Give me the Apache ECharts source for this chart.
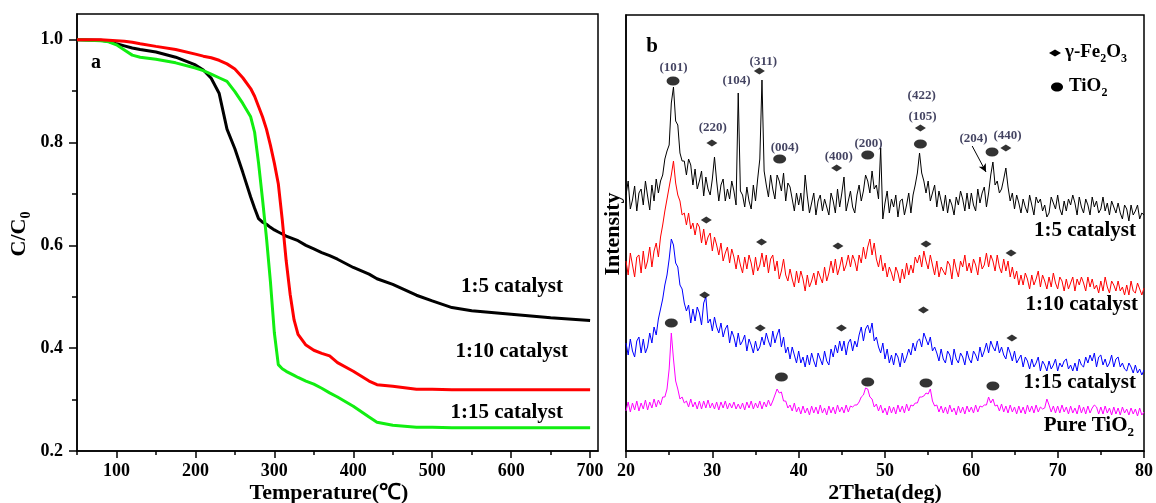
<!DOCTYPE html>
<html><head><meta charset="utf-8">
<script src="https://cdn.jsdelivr.net/npm/echarts@6/dist/echarts.min.js"></script>
<style>html,body{margin:0;padding:0;background:#fff}#c{width:1156px;height:503px}</style>
</head><body><div id="c"></div>
<script>
// ---------- Panel a: C/C0 vs temperature ----------
const tempC = [50,80,90,100,110,120,130,150,175,200,210,220,230,240,250,260,270,275,280,285,290,295,300,305,310,315,320,325,330,340,350,360,370,380,400,420,430,450,480,500,525,550,600,650,700];
const cat1to5  = [1.0,0.999,0.997,0.992,0.988,0.984,0.981,0.976,0.966,0.951,0.941,0.925,0.896,0.826,0.788,0.742,0.694,0.672,0.652,0.645,0.641,0.635,0.630,0.626,0.622,0.618,0.615,0.612,0.609,0.600,0.593,0.586,0.580,0.573,0.557,0.544,0.535,0.524,0.503,0.492,0.479,0.473,0.466,0.459,0.454];
const cat1to10 = [1.0,1.0,0.999,0.998,0.997,0.995,0.992,0.987,0.981,0.972,0.968,0.965,0.960,0.953,0.943,0.926,0.905,0.890,0.870,0.850,0.826,0.795,0.760,0.720,0.650,0.570,0.505,0.455,0.427,0.406,0.396,0.390,0.385,0.372,0.355,0.336,0.329,0.326,0.320,0.320,0.319,0.319,0.319,0.319,0.319];
const cat1to15 = [1.0,0.998,0.996,0.990,0.980,0.970,0.966,0.962,0.955,0.945,0.940,0.933,0.926,0.919,0.899,0.876,0.850,0.820,0.760,0.690,0.615,0.530,0.430,0.368,0.360,0.355,0.351,0.347,0.343,0.336,0.330,0.322,0.313,0.305,0.287,0.266,0.256,0.250,0.246,0.246,0.245,0.245,0.245,0.245,0.245];
const tempLabelTicks = [100,200,300,400,500,600,700];
const tempMinorTicks = [50,150,250,350,450,550,650];
const ccLabelTicks = [0.2,0.4,0.6,0.8,1.0];
const ccMinorTicks = [0.3,0.5,0.7,0.9];

// ---------- Panel b: XRD patterns (2theta from 20 to 80, step 0.25) ----------
const thetaStart = 20, thetaStep = 0.25;
const xrd1to5 = [256,270,242,251, 265,240,258,262, 246,270,255,241, 266,250,272,258, 270,276,292,300, 306,348,364,330, 326,298,290,290, 276,292,286,266, 282,262,270,280, 255,274,262,256, 272,294,270,250, 266,272,250,262, 252,270,260,246, 358,260,256,244, 264,250,242,266, 250,272,292,371, 280,266,254,276, 262,252,276,270, 260,278,250,268, 264,252,240,258, 246,258,240,276, 255,238,248,258, 236,250,256,240, 252,244,236,258, 250,238,262,244, 258,274,240,250, 260,244,238,256, 266,250,260,276, 270,258,280,262, 266,252,303,232, 248,260,238,252, 244,256,234,250, 252,236,246,258, 238,256,266,278, 298,278,270,258, 270,250,258,266, 244,260,250,240, 256,238,252,246, 236,254,246,260, 252,240,258,242, 258,246,240,262, 248,258,264,244, 258,276,289,266, 270,258,262,272, 283,264,250,258, 242,256,248,238, 252,244,238,256, 246,236,254,248, 252,240,246,234, 238,254,248,242, 256,242,236,250, 240,252,246,256, 248,236,254,244, 238,252,246,236, 254,244,250,238, 242,254,240,248, 236,250,244,238, 248,238,232,246, 242,230,246,236, 240,246,232,238, 236];
const xrd1to10 = [190,176,198,186, 174,194,196,178, 200,182,190,204, 184,200,208,194, 214,226,240,252, 264,276,290,268, 256,250,236,238, 226,238,222,228, 216,228,224,208, 222,206,214,218, 200,214,206,196, 208,190,198,204, 188,202,194,182, 196,186,178,194, 182,196,188,176, 194,180,186,198, 184,196,178,192, 196,180,190,172, 180,192,176,170, 182,172,164,180, 168,180,172,160, 176,164,170,178, 166,180,174,168, 184,170,178,190, 178,192,176,184, 194,180,186,196, 184,196,190,180, 196,188,204,192, 204,212,196,208, 192,184,196,180, 188,174,184,178, 170,184,178,168, 182,172,188,176, 186,178,194,188, 196,184,200,190, 182,196,186,176, 190,174,184,180, 176,190,186,172, 192,182,174,190, 184,196,180,188, 178,192,186,176, 194,182,186,198, 184,196,190,180, 196,184,178,192, 180,190,174,184, 172,180,166,176, 166,178,172,162, 176,166,172,180, 164,176,170,162, 174,164,178,168, 162,174,170,160, 172,162,168,174, 160,172,166,174, 168,160,174,164, 172,162,166,158, 170,160,174,164, 158,170,166,160, 170,160,164,156, 166,156,170,160, 158,168,162,156, 163];
const xrd1to15 = [108,96,112,100, 94,110,114,98, 112,98,104,118, 108,124,116,132, 142,152,166,176, 192,212,206,188, 184,166,162,148, 140,146,128,142, 130,144,138,126, 148,154,128,132, 120,134,124,118, 128,114,122,126, 108,120,114,104, 118,106,110,116, 100,112,106,98, 110,100,104,114, 106,118,110,104, 120,108,116,122, 104,114,98,104, 92,104,96,88, 100,88,94,84, 96,86,98,90, 84,98,92,86, 100,90,86,102, 94,106,98,110, 100,110,96,108, 112,100,110,104, 116,124,110,122, 126,118,128,110, 114,104,98,108, 92,102,88,96, 86,98,94,84, 98,88,94,102, 96,108,100,110, 112,104,118,112, 106,114,100,104, 98,90,102,92, 88,100,96,86, 102,92,88,98, 94,86,100,92, 88,100,96,90, 104,94,100,108, 98,110,104,100, 110,98,104,96, 92,104,98,90, 100,88,92,96, 84,94,90,82, 92,84,88,94, 80,90,86,80, 90,82,86,92, 80,88,84,90, 92,82,86,80, 88,80,92,86, 84,94,88,96, 90,98,84,94, 96,86,92,84, 88,96,84,92, 94,84,88,82, 80,88,84,78, 86,78,82,76, 81];
const xrdPureTiO2 = [40,49,39,48, 41,50,40,48, 42,51,41,49, 43,52,44,51, 46,54,54,62, 82,118,92,70, 62,52,54,48, 50,44,52,44, 49,42,50,42, 50,43,51,43, 48,42,49,41, 49,43,50,42, 48,43,49,42, 47,42,48,41, 49,43,50,42, 48,43,50,42, 49,44,51,45, 50,56,62,58, 59,50,50,43, 46,40,48,39, 44,37,45,38, 43,36,45,38, 44,37,46,38, 43,36,45,38, 44,37,46,39, 44,38,46,39, 45,44,46,46, 49,54,56,63, 62,54,52,44, 47,40,46,38, 43,36,45,38, 44,37,46,39, 45,38,47,40, 46,45,48,48, 54,54,55,58, 57,62,50,45, 46,39,45,38, 44,37,46,39, 43,36,45,38, 44,37,45,39, 44,38,46,39, 45,44,46,46, 54,48,52,45, 46,40,47,39, 45,38,46,39, 44,37,45,38, 44,37,46,39, 45,38,46,39, 44,42,43,52, 46,39,45,38, 45,38,46,39, 44,37,45,38, 43,37,46,38, 44,37,45,38, 43,46,44,37, 44,37,45,38, 43,36,44,37, 43,36,44,38, 42,36,43,37, 42,35,43,36, 39];
const thetaLabelTicks = [20,30,40,50,60,70,80];
const thetaMinorTicks = [25,35,45,55,65,75];

// phase markers [2theta, intensity]
const fe2o3Marks = [[35.45,380],[29.95,308],[44.4,283],[54.1,323],[64.0,303],
  [29.3,231],[35.7,209],[44.55,205],[54.75,207],[64.6,198],
  [29.1,156],[35.55,123],[44.95,123],[54.45,141],[64.7,113]];
const tio2Marks = [[25.45,370],[37.8,292],[48.0,296],[54.1,307],[62.4,299],
  [25.25,128],[38.0,74],[48.0,69],[54.75,68],[62.5,65]];
const millerLabels = [["(101)",25.5,383],["(104)",32.8,370],["(311)",35.9,389],["(220)",30.05,323],["(004)",38.4,303],["(400)",44.65,294],["(200)",48.1,307],["(422)",54.25,355],["(105)",54.35,334],["(204)",60.25,312],["(440)",64.2,315]];
const arrow204 = [[60.1,305],[61.7,279]];

// ---------- build ----------
const F = '"Liberation Serif","Times New Roman",serif';
const pairs = (xs, ys) => ys.map((v, i) => [xs[i], v]);
const xrdPairs = ys => ys.map((v, i) => [thetaStart + i * thetaStep, v]);
const blackLine = {color:'#000', width:1.5};
const tickLabel = {color:'#000', fontFamily:F, fontWeight:'bold', fontSize:18};

function lineSeries(name, data, color, width, xi, yi){
  return {name, type:'line', data, xAxisIndex:xi, yAxisIndex:yi, showSymbol:false, symbol:'none',
    lineStyle:{color, width}, itemStyle:{color}, z:2, silent:true};
}
const ellipsePath = 'path://M0 5A5 5 0 1 1 10 5A5 5 0 1 1 0 5Z';

const txt = (x, y, text, size, align, extra) => Object.assign({
  type:'text', x, y, silent:true,
  style:{text, fill:'#000', font:'bold ' + size + 'px ' + F, fontFamily:F, fontWeight:'bold', fontSize:size,
    align, textAlign:align, verticalAlign:'middle', textVerticalAlign:'middle'}
}, extra || {});
const subRich = size => ({
  m:{fontFamily:F, fontWeight:'bold', fontSize:size, fill:'#000', color:'#000', verticalAlign:'top'},
  s:{fontFamily:F, fontWeight:'bold', fontSize:Math.round(size*0.62), fill:'#000', color:'#000', verticalAlign:'top', padding:[Math.round(size*0.5),0,0,0]}
});
function richTxt(x, y, text, size, align, extra){
  const t = txt(x, y, text, size, align, extra);
  t.style.rich = subRich(size);
  return t;
}

const option = {
  animation:false,
  backgroundColor:'#fff',
  grid:[
    {left:77, right:558, top:14, bottom:52, show:true, borderColor:'#000', borderWidth:1.5, backgroundColor:'transparent'},
    {left:626, right:9, top:15, bottom:52, show:true, borderColor:'#000', borderWidth:1.5, backgroundColor:'transparent'}
  ],
  xAxis:[
    {gridIndex:0, type:'value', position:'bottom', min:50, max:710, splitLine:{show:false},
      axisLine:{show:true, onZero:false, lineStyle:blackLine},
      axisTick:{show:true, length:7, lineStyle:blackLine, customValues:tempLabelTicks},
      axisLabel:Object.assign({margin:11, customValues:tempLabelTicks}, tickLabel)},
    {gridIndex:0, type:'value', position:'bottom', min:50, max:710, splitLine:{show:false},
      axisLine:{show:false, onZero:false},
      axisTick:{show:true, length:4, lineStyle:blackLine, customValues:tempMinorTicks},
      axisLabel:{show:false}},
    {gridIndex:1, type:'value', position:'bottom', min:20, max:80, splitLine:{show:false},
      axisLine:{show:true, onZero:false, lineStyle:blackLine},
      axisTick:{show:true, length:7, lineStyle:blackLine, customValues:thetaLabelTicks},
      axisLabel:Object.assign({margin:11, customValues:thetaLabelTicks}, tickLabel)},
    {gridIndex:1, type:'value', position:'bottom', min:20, max:80, splitLine:{show:false},
      axisLine:{show:false, onZero:false},
      axisTick:{show:true, length:4, lineStyle:blackLine, customValues:thetaMinorTicks},
      axisLabel:{show:false}}
  ],
  yAxis:[
    {gridIndex:0, type:'value', position:'left', min:0.2, max:1.05, splitLine:{show:false},
      axisLine:{show:true, onZero:false, lineStyle:blackLine},
      axisTick:{show:true, length:8, lineStyle:blackLine, customValues:ccLabelTicks},
      axisLabel:Object.assign({margin:14, customValues:ccLabelTicks, formatter:v => Number(v).toFixed(1)}, tickLabel)},
    {gridIndex:0, type:'value', position:'left', min:0.2, max:1.05, splitLine:{show:false},
      axisLine:{show:false, onZero:false},
      axisTick:{show:true, length:5, lineStyle:blackLine, customValues:ccMinorTicks},
      axisLabel:{show:false}},
    {gridIndex:1, type:'value', position:'left', min:0, max:436, splitLine:{show:false},
      axisLine:{show:true, onZero:false, lineStyle:blackLine},
      axisTick:{show:false}, axisLabel:{show:false}}
  ],
  series:[
    lineSeries('1:5 catalyst', pairs(tempC, cat1to5), '#000000', 3, 0, 0),
    lineSeries('1:15 catalyst', pairs(tempC, cat1to15), '#11ee11', 3, 0, 0),
    lineSeries('1:10 catalyst', pairs(tempC, cat1to10), '#ff0000', 3, 0, 0),
    lineSeries('XRD 1:5', xrdPairs(xrd1to5), '#000000', 1, 2, 2),
    lineSeries('XRD 1:10', xrdPairs(xrd1to10), '#ff0000', 1, 2, 2),
    lineSeries('XRD 1:15', xrdPairs(xrd1to15), '#0000ff', 1, 2, 2),
    lineSeries('XRD Pure TiO2', xrdPairs(xrdPureTiO2), '#ff00ff', 1, 2, 2),
    {name:'γ-Fe2O3', type:'scatter', xAxisIndex:2, yAxisIndex:2, data:fe2o3Marks, symbol:'diamond', symbolSize:[11,7],
      itemStyle:{color:'#000'}, z:5, silent:true},
    {name:'TiO2', type:'scatter', xAxisIndex:2, yAxisIndex:2, data:tio2Marks, symbol:ellipsePath, symbolSize:[13,9],
      itemStyle:{color:'#000'}, z:5, silent:true},
    {name:'hkl', type:'scatter', xAxisIndex:2, yAxisIndex:2, symbolSize:0, z:6, silent:true,
      data:millerLabels.map(m => ({name:m[0], value:[m[1], m[2]]})),
      label:{show:true, position:'inside', formatter:p => p.name, color:'#14143a', fontFamily:F, fontWeight:'bold', fontSize:13},
      markLine:{silent:true, animation:false, symbol:['none','arrow'], symbolSize:[6,8],
        lineStyle:{color:'#000', width:1, type:'solid'}, label:{show:false},
        data:[[{coord:arrow204[0]},{coord:arrow204[1]}]]}}
  ],
  graphic:[
    txt(96, 63, 'a', 20, 'center'),
    txt(563, 287, '1:5 catalyst', 21, 'right'),
    txt(568, 352, '1:10 catalyst', 21, 'right'),
    txt(563, 413, '1:15 catalyst', 21, 'right'),
    txt(329, 493, 'Temperature(℃)', 22, 'center'),
    richTxt(21, 234, '{m|C/C}{s|0}', 22, 'center', {rotation:Math.PI/2}),
    txt(652, 47, 'b', 21, 'center'),
    txt(1136, 231, '1:5 catalyst', 21, 'right'),
    txt(1138, 305, '1:10 catalyst', 21, 'right'),
    txt(1136, 383, '1:15 catalyst', 21, 'right'),
    richTxt(1134, 427, '{m|Pure TiO}{s|2}', 21, 'right'),
    txt(885, 493, '2Theta(deg)', 22, 'center'),
    txt(613, 234, 'Intensity', 22, 'center', {rotation:Math.PI/2}),
    {type:'polygon', silent:true, shape:{points:[[1049,53],[1055,49.5],[1061,53],[1055,56.5]]}, style:{fill:'#000'}},
    richTxt(1065, 54, '{m|γ-Fe}{s|2}{m|O}{s|3}', 19, 'left'),
    {type:'ellipse', silent:true, shape:{cx:1057, cy:87, rx:6, ry:4.5}, style:{fill:'#000'}},
    richTxt(1069, 88, '{m|TiO}{s|2}', 19, 'left')
  ]
};
const chart = echarts.init(document.getElementById('c'), null, {renderer:'canvas'});
chart.setOption(option);
</script>
</body></html>
